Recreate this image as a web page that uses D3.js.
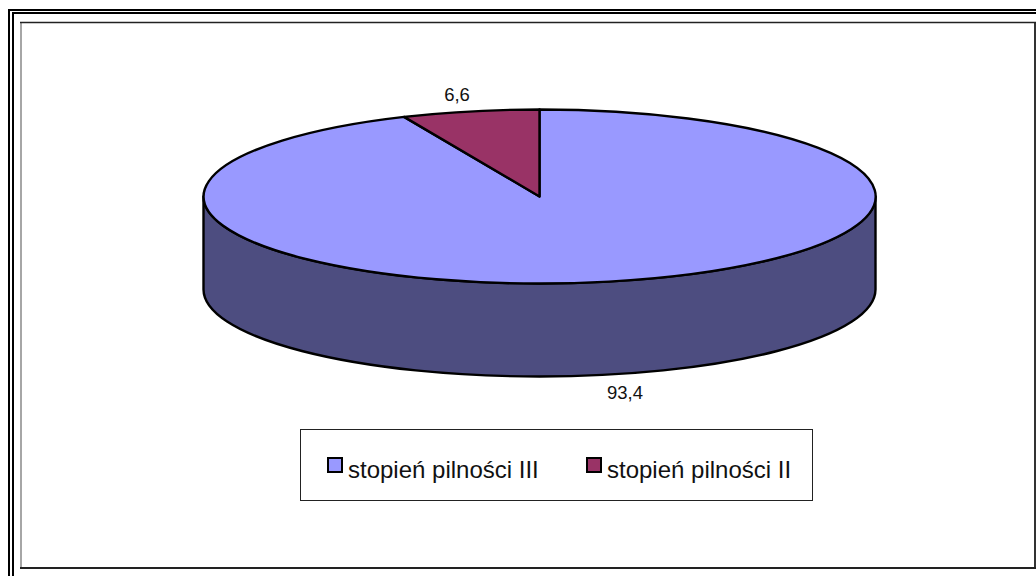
<!DOCTYPE html>
<html>
<head>
<meta charset="utf-8">
<script src="https://cdn.jsdelivr.net/npm/d3@7"></script>
<style>
  html, body { margin: 0; padding: 0; background: #fff; overflow: hidden; }
  svg { display: block; }
  text { font-family: "Liberation Sans", Arial, sans-serif; fill: #111; }
</style>
</head>
<body>
<svg width="1036" height="576"></svg>
<script>
/* data */
var categories = ["stopień pilności III", "stopień pilności II"];
var values = [93.4, 6.6];
var valueLabels = ["93,4", "6,6"];
var colors = ["#9999ff", "#993366"];
var sideColor = "#4d4d80";

var svg = d3.select("svg");

/* page frame: double line outside, thin box inside */
function line(x1, y1, x2, y2, w, c) {
  svg.append("line")
    .attr("x1", x1).attr("y1", y1).attr("x2", x2).attr("y2", y2)
    .attr("stroke", c).attr("stroke-width", w);
}
line(8, 10, 1036, 10, 2, "#000");
line(12, 13, 1036, 13, 2, "#000");
line(9, 9, 9, 576, 2, "#000");
line(13, 12, 13, 576, 2, "#000");

line(21, 22, 21, 568, 2, "#a6a6a6");
line(1035, 22, 1035, 569, 2, "#333");
line(20, 22.5, 1036, 22.5, 1.5, "#222");
line(20, 568, 1036, 568, 2, "#222");

/* pie geometry */
var cx = 539.5, cy = 196.5, rx = 336, ry = 87, depth = 93;

// the big slice starts at 12 o'clock and runs clockwise
var pie = d3.pie().sort(null).value(function(d) { return d; });
var arcs = pie(values);

var arc = d3.arc().innerRadius(0).outerRadius(1);

/* side wall: front half of the ellipse pushed down by depth */
var side = "M" + (cx - rx) + "," + cy
  + "L" + (cx - rx) + "," + (cy + depth)
  + "A" + rx + "," + ry + " 0 0 0 " + (cx + rx) + "," + (cy + depth)
  + "L" + (cx + rx) + "," + cy
  + "A" + rx + "," + ry + " 0 0 1 " + (cx - rx) + "," + cy + "Z";

svg.append("path")
  .attr("d", side)
  .attr("fill", sideColor)
  .attr("stroke", "#000")
  .attr("stroke-width", 2.4)
  .attr("stroke-linejoin", "round");

/* top face, unit arcs scaled to the ellipse */
svg.append("g")
    .attr("transform", "translate(" + cx + "," + cy + ") scale(" + rx + "," + ry + ")")
  .selectAll("path")
  .data(arcs)
  .enter().append("path")
    .attr("d", arc)
    .attr("fill", function(d, i) { return colors[i]; })
    .attr("stroke", "#000")
    .attr("stroke-width", 2.4)
    .attr("stroke-linejoin", "round")
    .attr("vector-effect", "non-scaling-stroke");

/* value labels */
svg.append("text")
  .attr("x", 625).attr("y", 399)
  .attr("text-anchor", "middle").attr("font-size", 18.5)
  .text(valueLabels[0]);
svg.append("text")
  .attr("x", 457).attr("y", 101)
  .attr("text-anchor", "middle").attr("font-size", 18.5)
  .text(valueLabels[1]);

/* legend */
svg.append("rect")
  .attr("x", 300.5).attr("y", 429.5).attr("width", 512).attr("height", 71)
  .attr("fill", "#fff").attr("stroke", "#222").attr("stroke-width", 1);

var legendX = d3.scaleOrdinal().domain(categories).range([328, 587]);

var item = svg.selectAll(".item")
  .data(categories)
  .enter().append("g")
    .attr("class", "item")
    .attr("transform", function(d) { return "translate(" + legendX(d) + ",458)"; });

item.append("rect")
  .attr("width", 14).attr("height", 14)
  .attr("fill", function(d, i) { return colors[i]; })
  .attr("stroke", "#000").attr("stroke-width", 2);

item.append("text")
  .attr("x", 20).attr("y", 20)
  .attr("font-size", 24)
  .text(function(d) { return d; });
</script>
</body>
</html>
